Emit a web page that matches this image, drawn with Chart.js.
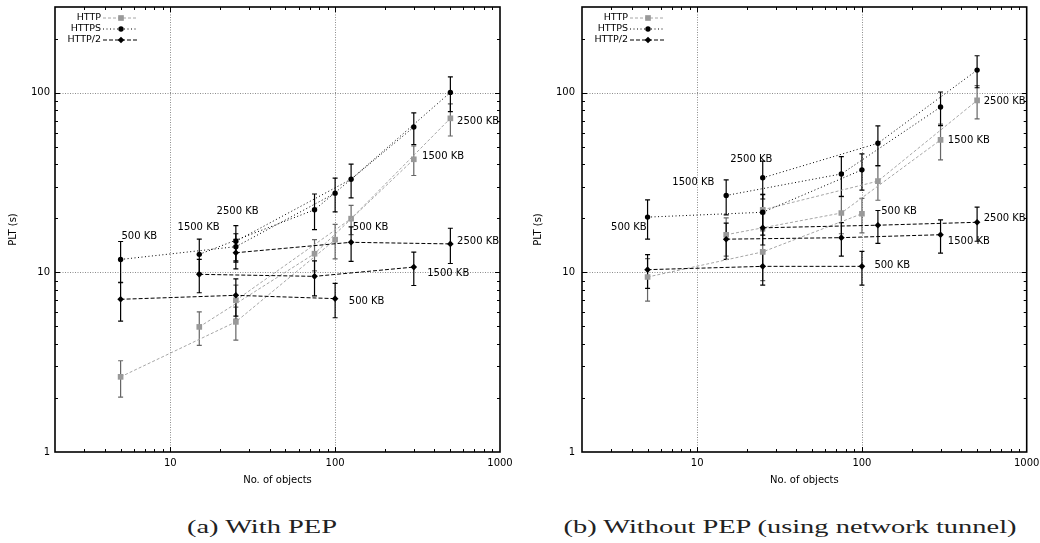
<!DOCTYPE html>
<html>
<head>
<meta charset="utf-8">
<script src="https://cdn.jsdelivr.net/npm/chart.js@4.4.1/dist/chart.umd.min.js"></script>
<style>
  body { margin: 0; background: #fff; }
  #page { position: relative; width: 1040px; height: 543px; overflow: hidden; background: #fff; }
  canvas { position: absolute; top: 0; }
  .cap {
    position: absolute; top: 516px; white-space: nowrap; color: #222;
    font: 18px 'Liberation Serif', serif; line-height: 22px;
    transform: translateX(-50%) scaleX(1.58);
  }
</style>
</head>
<body>
<div id="page">
  <canvas id="pep" width="520" height="500" style="left:0"></canvas>
  <canvas id="tunnel" width="520" height="500" style="left:520px"></canvas>
  <div class="cap" style="left:262px">(a) With PEP</div>
  <div class="cap" style="left:790px">(b) Without PEP (using network tunnel)</div>
</div>
<script>
// page size per row, object counts per point on that row
var sizeLabels = ['500 KB', '1500 KB', '2500 KB'];
var objectCounts = [[5, 25, 100], [15, 75, 300], [25, 125, 500]];
var protocols = ['HTTP', 'HTTPS', 'HTTP/2'];
var xTicks = [10, 100, 1000];
var yTicks = [1, 10, 100];

// (a) with PEP: mean PLT (s) and +/- error, one row per page size
var pepHttp = [[2.62, 5.3, 15.2], [4.97, 12.7, 42.6], [6.99, 19.9, 72]];
var pepHttpErr = [[0.6, 1.1, 3.3], [1.05, 2.5, 8], [1.5, 3.7, 14.6]];
var pepHttps = [[11.8, 13.9, 27.6], [12.6, 22.3, 64.4], [14.9, 33, 100.4]];
var pepHttpsErr = [[3.05, 2.5, 5.9], [2.7, 5, 12.9], [3.3, 7, 22]];
var pepH2 = [[7.08, 7.45, 7.14], [9.75, 9.5, 10.7], [12.86, 14.7, 14.4]];
var pepH2Err = [[1.73, 1.75, 1.55], [2.05, 2.1, 2.25], [2.4, 3.2, 3.2]];

// (b) without PEP (network tunnel)
var tunHttp = [[9.42, 13.0, 21.2], [16.2, 21.4, 54.6], [22.3, 32.2, 90.6]];
var tunHttpErr = [[2.5, 4, 4.6], [3.9, 5, 12.3], [5, 7, 19]];
var tunHttps = [[20.3, 21.6, 37.2], [26.8, 35.3, 83.2], [33.6, 52.3, 133.6]];
var tunHttpsErr = [[5, 5.5, 8.5], [5.9, 8.8, 17.7], [8, 13, 27]];
var tunH2 = [[10.35, 10.8, 10.8], [15.3, 15.6, 16.2], [17.7, 18.3, 19.0]];
var tunH2Err = [[2.2, 2.3, 2.3], [3.5, 3.3, 3.4], [3.5, 3.8, 4.1]];

// size annotations: text, objects, PLT
var notesA = [
  ['500 KB', 5.06, 15.85], ['1500 KB', 11.07, 17.8], ['2500 KB', 19.1, 21.8],
  ['2500 KB', 549, 69.3], ['1500 KB', 337, 44.3], ['500 KB', 128, 17.8],
  ['2500 KB', 549, 14.8], ['1500 KB', 362, 9.84], ['500 KB', 121, 6.93]
];
var notesB = [
  ['2500 KB', 15.9, 42.3], ['1500 KB', 7.07, 31.6], ['500 KB', 3.0, 17.7],
  ['2500 KB', 548, 89.5], ['1500 KB', 332, 54.1], ['500 KB', 131, 21.9],
  ['2500 KB', 548, 19.9], ['1500 KB', 332, 14.9], ['500 KB', 119, 10.9]
];

var styles = [
  { line: '#a6a6a6', point: '#999999', bar: '#666666', dash: [3, 2], shape: 'rect', r: 4, order: 3 },
  { line: '#000000', point: '#000000', bar: '#000000', dash: [1, 2.5], shape: 'circle', r: 2.7, order: 2 },
  { line: '#000000', point: '#000000', bar: '#000000', dash: [4, 2], shape: 'rectRot', r: 3.3, order: 1 }
];

Chart.defaults.font.family = "'DejaVu Sans', sans-serif";
Chart.defaults.font.size = 10;
Chart.defaults.color = '#000';

var xMinor = [], yMinor = [];
[1, 10, 100].forEach(function (d) {
  for (var k = 2; k <= 9; k++) {
    if (d * k > 2) xMinor.push(d * k);
    if (d * k < 300) yMinor.push(d * k);
  }
});

function panelPlugin(notes) {
  return {
    id: 'panel',
    beforeDatasetsDraw(chart) {
      var ctx = chart.ctx, a = chart.chartArea;
      var xs = chart.scales.x, ys = chart.scales.y;
      ctx.save();
      // dotted grid at the inner decades
      ctx.strokeStyle = '#8c8c8c';
      ctx.lineWidth = 1;
      ctx.setLineDash([1, 1.5]);
      ctx.beginPath();
      xTicks.forEach(function (v) {
        if (v <= xs.min || v >= xs.max) return;
        var px = Math.round(xs.getPixelForValue(v)) + 0.5;
        ctx.moveTo(px, a.top); ctx.lineTo(px, a.bottom);
      });
      yTicks.forEach(function (v) {
        if (v <= ys.min || v >= ys.max) return;
        var py = Math.round(ys.getPixelForValue(v)) + 0.5;
        ctx.moveTo(a.left, py); ctx.lineTo(a.right, py);
      });
      ctx.stroke();
      ctx.setLineDash([]);

      // error bars
      chart.data.datasets.forEach(function (ds, i) {
        var meta = chart.getDatasetMeta(i);
        ctx.strokeStyle = ds.errorColor;
        ctx.lineWidth = 1.2;
        ctx.beginPath();
        ds.errors.forEach(function (e, j) {
          var x = meta.data[j].x, v = ds.data[j].y;
          var hi = ys.getPixelForValue(v + e), lo = ys.getPixelForValue(v - e);
          ctx.moveTo(x, hi); ctx.lineTo(x, lo);
          ctx.moveTo(x - 2.5, hi); ctx.lineTo(x + 2.5, hi);
          ctx.moveTo(x - 2.5, lo); ctx.lineTo(x + 2.5, lo);
        });
        ctx.stroke();
      });
      ctx.restore();
    },
    afterDatasetsDraw(chart) {
      var ctx = chart.ctx, a = chart.chartArea;
      var xs = chart.scales.x, ys = chart.scales.y;
      ctx.save();

      // inward ticks on all four sides
      ctx.strokeStyle = '#000';
      ctx.lineWidth = 1;
      ctx.beginPath();
      function xTick(v, len) {
        var px = Math.round(xs.getPixelForValue(v)) + 0.5;
        ctx.moveTo(px, a.bottom); ctx.lineTo(px, a.bottom - len);
        ctx.moveTo(px, a.top); ctx.lineTo(px, a.top + len);
      }
      function yTick(v, len) {
        var py = Math.round(ys.getPixelForValue(v)) + 0.5;
        ctx.moveTo(a.left, py); ctx.lineTo(a.left + len, py);
        ctx.moveTo(a.right, py); ctx.lineTo(a.right - len, py);
      }
      xMinor.forEach(function (v) { xTick(v, 3); });
      xTicks.forEach(function (v) { if (v < xs.max) xTick(v, 5); });
      yMinor.forEach(function (v) { yTick(v, 3); });
      yTicks.forEach(function (v) { if (v > ys.min) yTick(v, 5); });
      ctx.stroke();

      ctx.lineWidth = 1.6;
      ctx.strokeRect(a.left, a.top, a.right - a.left, a.bottom - a.top);

      // key, text right-aligned with the sample after it
      ctx.font = "9.5px 'DejaVu Sans'";
      ctx.textAlign = 'right';
      ctx.textBaseline = 'middle';
      protocols.forEach(function (p, i) {
        var st = styles[i];
        var y = a.top + 11 + i * 11;
        ctx.fillStyle = '#000';
        ctx.fillText(p, a.left + 46, y);
        ctx.strokeStyle = st.line;
        ctx.lineWidth = 1;
        ctx.setLineDash(st.dash);
        ctx.beginPath();
        ctx.moveTo(a.left + 48, y); ctx.lineTo(a.left + 83, y);
        ctx.stroke();
        ctx.setLineDash([]);
        ctx.fillStyle = st.point;
        Chart.helpers.drawPoint(ctx, { pointStyle: st.shape, radius: st.r, rotation: 0, borderWidth: 0 }, a.left + 66, y);
      });

      // page size labels
      ctx.font = "10px 'DejaVu Sans'";
      ctx.textAlign = 'left';
      ctx.fillStyle = '#000';
      notes.forEach(function (n) {
        ctx.fillText(n[0], xs.getPixelForValue(n[1]), ys.getPixelForValue(n[2]));
      });
      ctx.restore();
    }
  };
}

function buildDatasets(means, errs) {
  var out = [];
  protocols.forEach(function (p, pi) {
    var st = styles[pi];
    sizeLabels.forEach(function (s, si) {
      out.push({
        label: p + ' ' + s,
        data: objectCounts[si].map(function (n, k) { return { x: n, y: means[pi][si][k] }; }),
        errors: errs[pi][si],
        errorColor: st.bar,
        order: st.order,
        borderColor: st.line,
        borderWidth: 1,
        borderDash: st.dash,
        pointStyle: st.shape,
        pointRadius: st.r,
        pointBackgroundColor: st.point,
        pointBorderWidth: 0,
        tension: 0,
        fill: false
      });
    });
  });
  return out;
}

function noEdgePadding(s) {
  s.paddingTop = 0;
  s.paddingBottom = 0;
  s.paddingLeft = 0;
  s.paddingRight = 0;
}

function makePanel(id, means, errs, notes, yWidth, padRight, yTickPad, yTitlePad) {
  return new Chart(document.getElementById(id), {
    type: 'line',
    data: { datasets: buildDatasets(means, errs) },
    options: {
      responsive: false,
      animation: false,
      events: [],
      layout: { padding: { top: 7, right: padRight, left: 0, bottom: 0 } },
      plugins: { legend: { display: false }, tooltip: { enabled: false } },
      scales: {
        x: {
          type: 'logarithmic', min: 2, max: 1000,
          grid: { display: false, drawTicks: false },
          border: { display: false },
          afterBuildTicks: function (s) { s.ticks = xTicks.map(function (v) { return { value: v }; }); },
          afterFit: function (s) { s.height = 48; noEdgePadding(s); },
          ticks: { autoSkip: false, maxRotation: 0, padding: 5, callback: function (v) { return String(v); } },
          title: { display: true, text: 'No. of objects', padding: { top: 0, bottom: 14 } }
        },
        y: {
          type: 'logarithmic', min: 1, max: 300,
          grid: { display: false, drawTicks: false },
          border: { display: false },
          afterBuildTicks: function (s) { s.ticks = yTicks.map(function (v) { return { value: v }; }); },
          afterFit: function (s) { s.width = yWidth; noEdgePadding(s); },
          ticks: { autoSkip: false, padding: yTickPad, callback: function (v) { return String(v); } },
          title: { display: true, text: 'PLT (s)', padding: { top: yTitlePad, bottom: 0 } }
        }
      }
    },
    plugins: [panelPlugin(notes)]
  });
}

makePanel('pep',
  [pepHttp, pepHttps, pepH2], [pepHttpErr, pepHttpsErr, pepH2Err],
  notesA, 55, 20, 5, 7.5);
makePanel('tunnel',
  [tunHttp, tunHttps, tunH2], [tunHttpErr, tunHttpsErr, tunH2Err],
  notesB, 62, 13.3, 7, 12.3);
</script>
</body>
</html>
